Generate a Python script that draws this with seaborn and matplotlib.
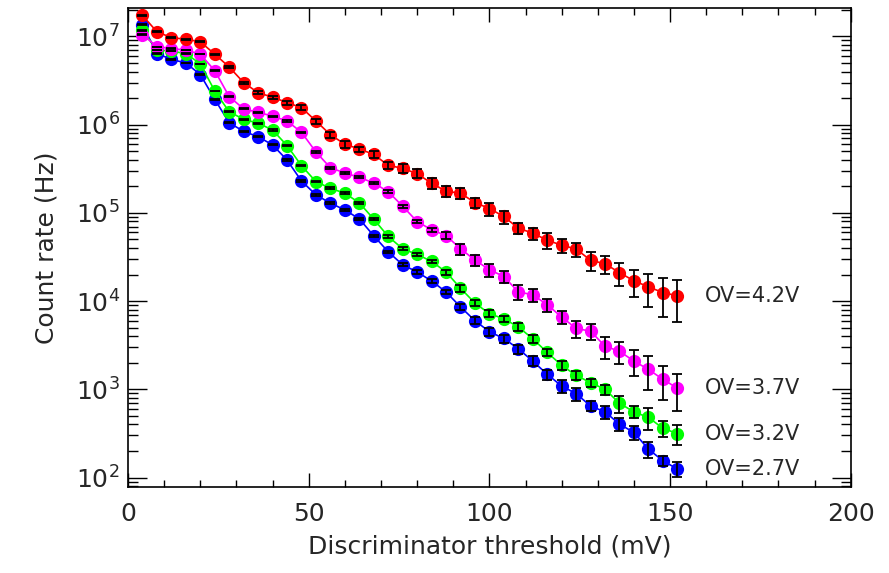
import matplotlib
matplotlib.use("Agg")
import matplotlib.pyplot as plt
import seaborn as sns
import pandas as pd
import numpy as np
from matplotlib.ticker import MultipleLocator, LogLocator, NullFormatter

# discriminator thresholds (mV)
thresholds = [4, 8, 12, 16, 20, 24, 28, 32, 36, 40, 44, 48, 52, 56, 60, 64, 68, 72, 76,
              80, 84, 88, 92, 96, 100, 104, 108, 112, 116, 120, 124, 128, 132, 136, 140,
              144, 148, 152]

labels = ["OV=4.2V", "OV=3.7V", "OV=3.2V", "OV=2.7V"]
colors = ["#ff0000", "#ff00ff", "#00ff00", "#0000ff"]

# count rates (Hz)
rate_42 = [1.73e7, 1.13e7, 9.7e6, 9.3e6, 8.7e6, 6.3e6, 4.5e6, 3.0e6, 2.3e6, 2.05e6,
           1.78e6, 1.56e6, 1.1e6, 7.7e5, 6.0e5, 5.3e5, 4.6e5, 3.46e5, 3.2e5, 2.78e5,
           2.17e5, 1.76e5, 1.67e5, 1.31e5, 1.12e5, 9.1e4, 6.7e4, 5.9e4, 4.9e4, 4.3e4,
           3.9e4, 2.9e4, 2.65e4, 2.1e4, 1.7e4, 1.45e4, 1.25e4, 1.15e4]
rate_37 = [1.05e7, 7.65e6, 7.3e6, 7.0e6, 6.3e6, 4.1e6, 2.08e6, 1.51e6, 1.38e6, 1.25e6,
           1.1e6, 8.2e5, 4.9e5, 3.25e5, 2.83e5, 2.53e5, 2.18e5, 1.74e5, 1.19e5, 7.98e4,
           6.43e4, 5.54e4, 3.92e4, 2.92e4, 2.27e4, 1.9e4, 1.27e4, 1.18e4, 9.1e3, 6.6e3,
           4.9e3, 4.56e3, 3.08e3, 2.7e3, 2.09e3, 1.68e3, 1.3e3, 1.03e3]
rate_32 = [1.17e7, 7.07e6, 6.8e6, 6.4e6, 4.9e6, 2.41e6, 1.4e6, 1.15e6, 1.04e6, 8.7e5,
           5.8e5, 3.43e5, 2.26e5, 1.9e5, 1.67e5, 1.3e5, 8.5e4, 5.4e4, 3.92e4, 3.38e4,
           2.82e4, 2.14e4, 1.4e4, 9.5e3, 7.2e3, 6.3e3, 5.1e3, 3.74e3, 2.62e3, 1.87e3,
           1.44e3, 1.19e3, 1.0e3, 695, 555, 480, 362, 315]
rate_27 = [1.36e7, 6.4e6, 5.5e6, 5.0e6, 3.7e6, 1.94e6, 1.05e6, 8.4e5, 7.3e5, 5.9e5,
           3.97e5, 2.3e5, 1.6e5, 1.29e5, 1.08e5, 8.55e4, 5.5e4, 3.62e4, 2.58e4, 2.14e4,
           1.69e4, 1.27e4, 8.6e3, 6.0e3, 4.5e3, 3.77e3, 2.88e3, 2.09e3, 1.48e3, 1.09e3,
           893, 647, 555, 403, 324, 210, 155, 125]

# relative errors (fraction of the rate)
rel_42 = [0.005, 0.008, 0.01, 0.01, 0.012, 0.015, 0.02, 0.025, 0.035, 0.04,
          0.05, 0.06, 0.065, 0.074, 0.09, 0.065, 0.087, 0.1, 0.113, 0.117,
          0.134, 0.15, 0.138, 0.129, 0.168, 0.168, 0.138, 0.155, 0.196, 0.19,
          0.18, 0.234, 0.234, 0.3, 0.341, 0.415, 0.465, 0.498]
rel_37 = [0.005, 0.005, 0.006, 0.006, 0.007, 0.008, 0.01, 0.012, 0.014, 0.016,
          0.018, 0.02, 0.022, 0.025, 0.028, 0.03, 0.03, 0.035, 0.04, 0.045,
          0.05, 0.09, 0.14, 0.15, 0.165, 0.16, 0.19, 0.165, 0.168, 0.168,
          0.218, 0.205, 0.276, 0.28, 0.323, 0.41, 0.413, 0.45]
rel_32 = [0.005, 0.005, 0.006, 0.006, 0.007, 0.008, 0.01, 0.012, 0.014, 0.016,
          0.018, 0.02, 0.022, 0.024, 0.026, 0.028, 0.03, 0.032, 0.035, 0.04,
          0.05, 0.065, 0.087, 0.08, 0.087, 0.087, 0.108, 0.108, 0.095, 0.108,
          0.108, 0.108, 0.129, 0.215, 0.155, 0.276, 0.194, 0.256]
rel_27 = [0.005, 0.005, 0.006, 0.006, 0.007, 0.008, 0.01, 0.012, 0.014, 0.016,
          0.018, 0.02, 0.022, 0.024, 0.026, 0.028, 0.03, 0.032, 0.035, 0.04,
          0.045, 0.05, 0.075, 0.087, 0.108, 0.108, 0.117, 0.129, 0.129, 0.172,
          0.172, 0.129, 0.172, 0.172, 0.172, 0.215, 0.138, 0.194]

rates = [rate_42, rate_37, rate_32, rate_27]
rels = [rel_42, rel_37, rel_32, rel_27]

frames = []
for lab, r, e in zip(labels, rates, rels):
    frames.append(pd.DataFrame({"threshold": thresholds, "rate": r,
                                "err": np.array(r) * np.array(e), "OV": lab}))
df = pd.concat(frames, ignore_index=True)

sns.set_style("ticks")
plt.rcParams["font.family"] = ["DejaVu Sans"]
plt.rcParams["mathtext.fontset"] = "dejavusans"

fig = plt.figure(figsize=(8.89, 5.73), dpi=100)
ax = fig.add_axes([0.144, 0.150, 0.813, 0.836])

sns.lineplot(data=df, x="threshold", y="rate", hue="OV", hue_order=labels[::-1],
             palette=dict(zip(labels, colors)), marker="o", markersize=9.5,
             markeredgewidth=0, linewidth=1.2, legend=False, errorbar=None,
             sort=False, ax=ax)

for lab in labels:
    sub = df[df["OV"] == lab]
    ax.errorbar(sub["threshold"], sub["rate"], yerr=sub["err"], fmt="none",
                ecolor="black", elinewidth=1.3, capsize=3.5, capthick=1.3, zorder=4)
    ax.text(159.5, sub["rate"].iloc[-1], lab, va="center", ha="left", fontsize=15)

ax.set_yscale("log")
ax.set_xlim(0, 200)
ax.set_ylim(78, 2.1e7)
ax.xaxis.set_major_locator(MultipleLocator(50))
ax.xaxis.set_minor_locator(MultipleLocator(10))
ax.yaxis.set_major_locator(LogLocator(base=10, numticks=12))
ax.yaxis.set_minor_locator(LogLocator(base=10, subs=np.arange(2, 10), numticks=12))
ax.yaxis.set_minor_formatter(NullFormatter())

ax.tick_params(axis="both", which="both", direction="in", top=True, right=True,
               labelsize=18, width=1.0, color="black")
ax.tick_params(axis="x", which="major", length=10, pad=11)
ax.tick_params(axis="x", which="minor", length=5)
ax.tick_params(axis="y", which="major", length=14, pad=6)
ax.tick_params(axis="y", which="minor", length=7)
for s in ax.spines.values():
    s.set_linewidth(1.2)
    s.set_color("black")

ax.set_xlabel("Discriminator threshold (mV)", fontsize=18, labelpad=6)
ax.set_ylabel("Count rate (Hz)", fontsize=18, labelpad=12)

fig.savefig("out.png", dpi=100)
